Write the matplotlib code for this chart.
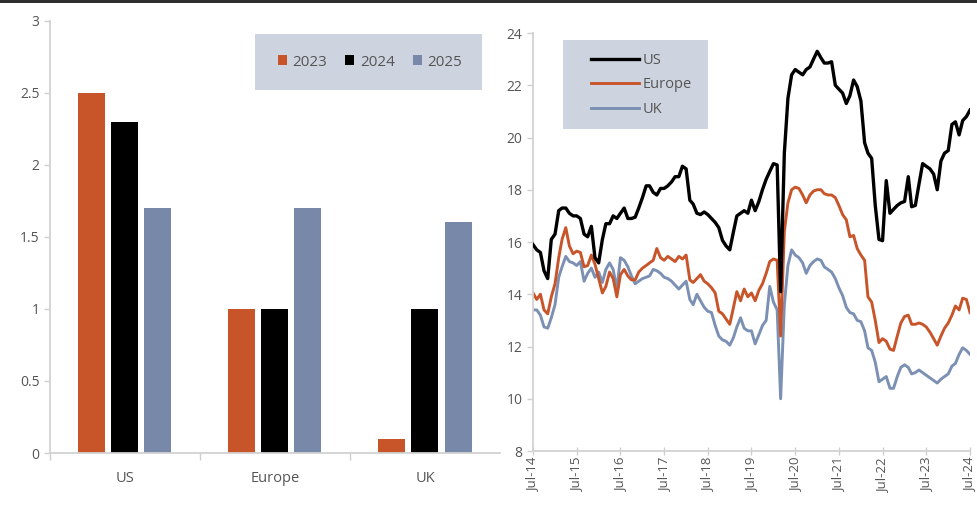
import matplotlib

matplotlib.use("Agg")

import matplotlib.pyplot as plt
import pandas as pd
from matplotlib.patches import Rectangle

plt.rcParams["font.family"] = ["Open Sans", "DejaVu Sans"]
plt.rcParams["text.color"] = "#555555"
plt.rcParams["xtick.color"] = "#cfcfcf"
plt.rcParams["ytick.color"] = "#cfcfcf"
plt.rcParams["xtick.labelcolor"] = "#555555"
plt.rcParams["ytick.labelcolor"] = "#555555"

ORANGE = "#c8552a"
BLACK = "#000000"
SLATE = "#7888a8"
LINE_SLATE = "#7b90b3"
SPINE = "#d2d2d2"
LEGEND_BG = "#cdd3df"

# --- bar panel: growth by region and year ---
regions = ["US", "Europe", "UK"]
growth_2023 = [2.5, 1.0, 0.1]
growth_2024 = [2.3, 1.0, 1.0]
growth_2025 = [1.7, 1.7, 1.6]
bar_ticks = [0, 0.5, 1, 1.5, 2, 2.5, 3]
bar_tick_labels = ["0", "0.5", "1", "1.5", "2", "2.5", "3"]

# --- line panel: monthly readings, Jul-2014 to Jul-2024 ---
start_month = "2014-07-01"
us = [
    15.9, 15.7, 15.6, 14.9, 14.6, 16.1, 16.3, 17.2, 17.3, 17.3,
    17.1, 17.0, 17.0, 16.9, 16.3, 16.2, 16.6, 15.4, 15.2, 16.1,
    16.7, 16.7, 17.0, 16.9, 17.1, 17.3, 16.9, 16.9, 16.95, 17.3,
    17.7, 18.15, 18.15, 17.9, 17.8, 18.05, 18.05, 18.15, 18.3, 18.5,
    18.5, 18.9, 18.8, 17.6, 17.45, 17.1, 17.05, 17.15, 17.05, 16.9,
    16.75, 16.55, 16.06, 15.85, 15.7, 16.4, 17.0, 17.1, 17.2, 17.1,
    17.6, 17.2, 17.55, 18.0, 18.4, 18.7, 19.0, 18.95, 14.1, 19.4,
    21.5, 22.4, 22.6, 22.5, 22.4, 22.6, 22.7, 23.0, 23.3, 23.05,
    22.85, 22.85, 22.9, 22.0, 21.85, 21.7, 21.3, 21.6, 22.2, 21.95,
    21.4, 19.8, 19.4, 19.2, 17.4, 16.1, 16.05, 18.35, 17.1, 17.25,
    17.4, 17.5, 17.55, 18.5, 17.35, 17.4, 18.2, 19.0, 18.9, 18.8,
    18.6, 18.0, 19.1, 19.4, 19.5, 20.5, 20.6, 20.1, 20.65, 20.8,
    21.05,
]
europe = [
    14.05, 13.8, 14.0, 13.4, 13.25, 13.9, 14.4, 15.4, 16.1, 16.55,
    15.85, 15.55, 15.65, 15.6, 15.05, 15.1, 15.5, 15.15, 14.6, 14.05,
    14.3, 14.85, 14.6, 13.9, 14.75, 14.95, 14.7, 14.55, 14.55, 14.85,
    15.0, 15.1, 15.2, 15.3, 15.75, 15.4, 15.3, 15.45, 15.35, 15.25,
    15.45, 15.35, 15.5, 14.55, 14.45, 14.6, 14.75, 14.5, 14.4, 14.25,
    14.05, 13.35, 13.25, 13.05, 12.85, 13.5, 14.1, 13.75, 14.2, 13.9,
    14.05, 13.75, 14.15, 14.4, 14.8, 15.25, 15.35, 15.3, 12.4, 16.4,
    17.5, 18.0, 18.1, 18.05, 17.8, 17.5, 17.8, 17.95, 18.0, 18.0,
    17.85, 17.8, 17.8, 17.7, 17.4, 17.05, 16.85, 16.2, 16.25, 15.75,
    15.5, 15.3, 13.9, 13.7, 13.0, 12.15, 12.3, 12.2, 11.9, 11.85,
    12.4, 12.9, 13.15, 13.2, 12.85, 12.85, 12.9, 12.85, 12.75, 12.55,
    12.3, 12.05, 12.4, 12.7, 12.9, 13.2, 13.55, 13.4, 13.85, 13.8,
    13.3,
]
uk = [
    13.4, 13.4, 13.2, 12.75, 12.7, 13.1, 13.6, 14.65, 15.05, 15.45,
    15.25, 15.2, 15.1, 15.25, 14.5, 14.8, 15.0, 14.65, 14.85, 14.45,
    14.95, 15.2, 14.95, 14.2, 15.4, 15.3, 15.05, 14.7, 14.4, 14.5,
    14.6, 14.65, 14.7, 14.95, 14.9, 14.8, 14.65, 14.6, 14.5, 14.35,
    14.2, 14.35, 14.5, 13.8, 13.6, 14.0, 13.75, 13.5, 13.35, 13.3,
    12.8, 12.4, 12.25, 12.2, 12.05, 12.35, 12.75, 13.1, 12.7, 12.6,
    12.6, 12.1, 12.45, 12.8, 13.0, 14.3, 13.7, 13.4, 10.0, 13.6,
    15.1, 15.7, 15.5, 15.4, 15.2, 14.8, 15.1, 15.25, 15.35, 15.3,
    15.05, 14.95, 14.85, 14.6, 14.25, 13.95, 13.5, 13.3, 13.25, 13.0,
    12.95, 12.6, 11.95, 11.85, 11.4, 10.65, 10.75, 10.85, 10.4, 10.4,
    10.85, 11.2, 11.3, 11.2, 10.95, 11.0, 11.1, 11.0, 10.9, 10.8,
    10.7, 10.6, 10.75, 10.85, 10.95, 11.25, 11.35, 11.7, 11.95, 11.85,
    11.7,
]
line_ticks = [8, 10, 12, 14, 16, 18, 20, 22, 24]

W, H = 978, 511


def fig_box(x0, y0, x1, y1):
    """Pixel box (top-left origin) to figure fraction [left, bottom, width, height]."""
    return [x0 / W, 1 - y1 / H, (x1 - x0) / W, (y1 - y0) / H]


def style_axis(ax):
    for side in ("top", "right"):
        ax.spines[side].set_visible(False)
    for side in ("left", "bottom"):
        ax.spines[side].set_color(SPINE)
        ax.spines[side].set_linewidth(1.3)
    ax.tick_params(axis="both", length=4, width=1.0, labelsize=10)


def legend_panel(ax, x0, y0, x1, y1):
    """Shaded backdrop behind a legend, given in figure pixels."""
    x, y, w, h = fig_box(x0, y0, x1, y1)
    ax.add_patch(Rectangle((x, y), w, h, transform=fig.transFigure,
                           color=LEGEND_BG, lw=0, zorder=0.5, clip_on=False))


fig = plt.figure(figsize=(W / 100, H / 100), dpi=100)

# dark rule along the top edge
fig.add_artist(Rectangle((0, 1 - 3 / H), 1, 3 / H, transform=fig.transFigure,
                         color="#2e2e2e", lw=0))

# left: grouped bars
ax1 = fig.add_axes(fig_box(50, 20.7, 500, 453))
style_axis(ax1)
x = range(len(regions))
step, width = 0.22, 0.18
ax1.bar([i - step for i in x], growth_2023, width, color=ORANGE, label="2023")
ax1.bar(list(x), growth_2024, width, color=BLACK, label="2024")
ax1.bar([i + step for i in x], growth_2025, width, color=SLATE, label="2025")
ax1.set_xlim(-0.5, 2.5)
ax1.set_ylim(0, 3)
ax1.set_yticks(bar_ticks, bar_tick_labels)
ax1.set_xticks([-0.5, 0.5, 1.5])
ax1.set_xticklabels([])
ax1.set_xticks(list(x), regions, minor=True)
ax1.tick_params(axis="x", which="minor", length=0, labelsize=10.5, pad=13)
ax1.tick_params(axis="x", which="major", direction="out", length=5)

legend_panel(ax1, 255, 34, 482, 90)
ax1.legend(loc="center", bbox_to_anchor=(370 / W, 1 - 62 / H),
           bbox_transform=fig.transFigure, ncol=3, frameon=False, fontsize=11,
           handlelength=0.6, handleheight=0.6, handletextpad=0.35,
           columnspacing=1.2)

# right: monthly lines
dates = pd.date_range(start_month, periods=len(us), freq="MS")
ax2 = fig.add_axes(fig_box(533, 33, 970, 451))
style_axis(ax2)
ax2.plot(dates, us, color=BLACK, lw=2.4, label="US", zorder=3)
ax2.plot(dates, europe, color=ORANGE, lw=2.1, label="Europe", zorder=2)
ax2.plot(dates, uk, color=LINE_SLATE, lw=2.1, label="UK", zorder=1)
ax2.set_ylim(8, 24)
ax2.set_yticks(line_ticks)
ax2.set_xlim(dates[0], dates[-1])
year_ticks = dates[::12]
ax2.set_xticks(year_ticks, [d.strftime("%b-%y") for d in year_ticks],
               rotation=90)
ax2.tick_params(axis="x", direction="inout", length=6, labelsize=9.5, pad=2)

legend_panel(ax2, 563, 40, 708, 129)
ax2.legend(loc="center left", bbox_to_anchor=(578 / W, 1 - 85 / H),
           bbox_transform=fig.transFigure, frameon=False, fontsize=10.5,
           handlelength=3.3, handletextpad=0.2, labelspacing=0.65)

fig.savefig("out.png", dpi=100)
